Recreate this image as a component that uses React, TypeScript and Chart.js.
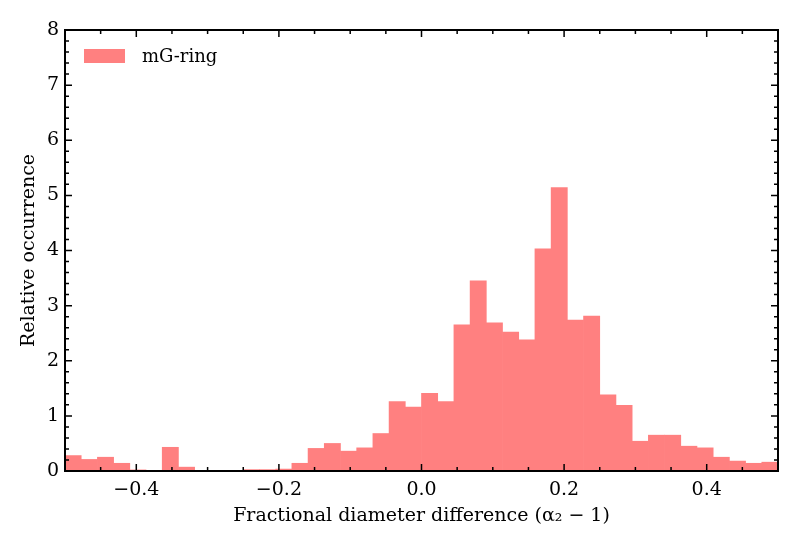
import React, { useEffect, useRef } from "react";
import { Chart, registerables } from "chart.js";

Chart.register(...registerables);

// histogram bins: 44 equal bins between -0.5 and 0.5
const binLow = -0.5;
const binHigh = 0.5;
const binCount = 44;

const occurrence = [
  0.28, 0.21, 0.25, 0.14, 0.02, 0, 0.43, 0.07, 0, 0, 0, 0.025, 0.025, 0.035,
  0.14, 0.41, 0.5, 0.36, 0.42, 0.68, 1.26, 1.16, 1.41, 1.26, 2.65, 3.45, 2.69,
  2.52, 2.38, 4.03, 5.14, 2.74, 2.81, 1.38, 1.19, 0.54, 0.65, 0.65, 0.45, 0.42,
  0.25, 0.18, 0.14, 0.16,
];

const xTickLabels = [-0.4, -0.2, 0.0, 0.2, 0.4];
const yTickLabels = [0, 1, 2, 3, 4, 5, 6, 7, 8];

const seriesLabel = "mG-ring";
const xTitle = "Fractional diameter difference (α₂ − 1)";
const yTitle = "Relative occurrence";

const barColor = "rgb(255, 128, 128)";
const fontFamily = "'DejaVu Serif', 'Liberation Serif', serif";
const fontSize = 19;

const fmtTick = (v: number) => {
  const s = Math.abs(v).toFixed(1);
  return v < -1e-9 ? "\u2212" + s : s;
};

// inward ticks on all four sides, the frame and the legend
const frameTicks = {
  id: "frameTicks",
  afterDraw(chart: Chart) {
    const { ctx, chartArea } = chart;
    const { left, right, top, bottom } = chartArea;
    const x = chart.scales.x;
    const y = chart.scales.y;
    ctx.save();
    ctx.strokeStyle = "#000";
    ctx.lineWidth = 1.5;
    ctx.beginPath();
    for (let k = -10; k <= 10; k++) {
      const px = x.getPixelForValue(k * 0.05);
      const len = k % 4 === 0 ? 7 : 4;
      ctx.moveTo(px, bottom);
      ctx.lineTo(px, bottom - len);
      ctx.moveTo(px, top);
      ctx.lineTo(px, top + len);
    }
    for (let k = 0; k <= 40; k++) {
      const py = y.getPixelForValue(k * 0.2);
      const len = k % 5 === 0 ? 7 : 4;
      ctx.moveTo(left, py);
      ctx.lineTo(left + len, py);
      ctx.moveTo(right, py);
      ctx.lineTo(right - len, py);
    }
    ctx.stroke();
    ctx.lineWidth = 2;
    ctx.strokeRect(left, top, right - left, bottom - top);

    const ds = chart.data.datasets[0];
    ctx.fillStyle = ds.backgroundColor as string;
    ctx.fillRect(left + 19, top + 19, 41, 14);
    ctx.fillStyle = "#000";
    ctx.font = `${fontSize - 1}px ${fontFamily}`;
    ctx.textBaseline = "middle";
    ctx.textAlign = "left";
    ctx.fillText(ds.label || "", left + 77, top + 27);
    ctx.restore();
  },
};

export default function App() {
  const canvasRef = useRef<HTMLCanvasElement>(null);
  const chartRef = useRef<Chart | null>(null);

  useEffect(() => {
    document.body.style.margin = "0";
    if (!canvasRef.current) return;
    if (chartRef.current) chartRef.current.destroy();

    const width = (binHigh - binLow) / binCount;
    const points = occurrence.map((v, i) => ({
      x: binLow + (i + 0.5) * width,
      y: v,
    }));

    chartRef.current = new Chart(canvasRef.current, {
      type: "bar",
      data: {
        datasets: [
          {
            label: seriesLabel,
            data: points,
            backgroundColor: barColor,
            borderWidth: 0,
            barPercentage: 1,
            categoryPercentage: 1,
          },
        ],
      },
      options: {
        animation: false,
        responsive: true,
        maintainAspectRatio: false,
        layout: { padding: { left: 0, right: 22, top: 30, bottom: 0 } },
        plugins: {
          legend: { display: false },
          tooltip: { enabled: false },
        },
        scales: {
          x: {
            type: "linear",
            offset: false,
            min: binLow,
            max: binHigh,
            grid: { display: false, drawTicks: false },
            border: { display: false },
            afterBuildTicks: (scale) => {
              scale.ticks = xTickLabels.map((value) => ({ value }));
            },
            ticks: {
              autoSkip: false,
              maxRotation: 0,
              padding: 8,
              color: "#000",
              font: { family: fontFamily, size: fontSize },
              callback: (v) => fmtTick(Number(v)),
            },
            title: {
              display: true,
              text: xTitle,
              color: "#000",
              font: { family: fontFamily, size: fontSize },
              padding: { top: 0, bottom: 23 },
            },
            afterFit: (scale) => {
              scale.height = 79;
            },
          },
          y: {
            min: 0,
            max: 8,
            grid: { display: false, drawTicks: false },
            border: { display: false },
            afterBuildTicks: (scale) => {
              scale.ticks = yTickLabels.map((value) => ({ value }));
            },
            ticks: {
              padding: 6,
              color: "#000",
              font: { family: fontFamily, size: fontSize },
            },
            title: {
              display: true,
              text: yTitle,
              color: "#000",
              font: { family: fontFamily, size: fontSize },
              padding: { top: 18, bottom: 0 },
            },
            afterFit: (scale) => {
              scale.width = 65;
            },
          },
        },
      },
      plugins: [frameTicks],
    });

    return () => {
      if (chartRef.current) {
        chartRef.current.destroy();
        chartRef.current = null;
      }
    };
  }, []);

  return (
    <div style={{ width: 800, height: 550, background: "#fff" }}>
      <canvas ref={canvasRef} />
    </div>
  );
}
